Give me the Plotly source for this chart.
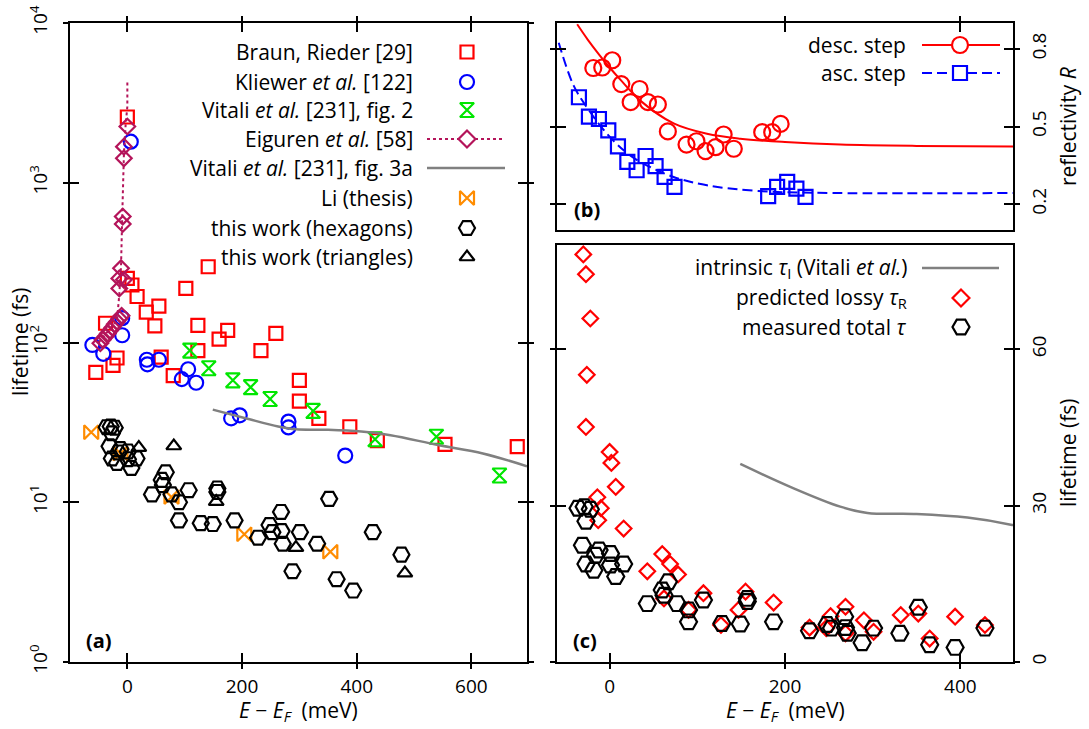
import plotly.graph_objects as go

W, H = 1089, 729
# plot-area edges in pixels (margins)
L, R, T, B = 70, 1013, 23, 662
PW, PH = R - L, B - T

FONT = "Open Sans"
FS = 21      # key and title text
TFS = 19     # tick labels
RED, BLUE, GREEN = "#ff0000", "#0000ff", "#00e600"
ORANGE, CRIMSON, GRAY = "#ff8c00", "#b4145a", "#808080"

# ---------------- panel (a): lifetime vs E - E_F (log) ----------------
braun_x = [-55, -38, -25, -18, 0, 0, 8, 17, 33, 48, 55, 59, 80, 102, 123, 123,
           141, 160, 175, 233, 259, 300, 300, 334, 388, 436, 554, 680]
braun_y = [65, 132, 72, 80, 2580, 252, 229, 194, 155, 127, 169, 81, 62, 218, 128, 89,
           298, 105, 119, 89, 114, 58, 43, 33.5, 29.7, 24.3, 23, 22.3]

kliewer_x = [-61, -42, -9, -9, 6, 34, 35, 55, 95, 106, 120, 181, 196, 281, 281, 380]
kliewer_y = [96.5, 85, 142, 111, 1807, 78, 73, 78, 59, 68, 56, 33.5, 35, 32, 29.4, 19.6]

vitali2_x = [109, 142, 184, 215, 249, 324, 432, 539, 649]
vitali2_y = [89, 69, 58, 52.5, 44.3, 37.3, 24.8, 25.7, 14.7]

eiguren_x = [-47, -43, -38, -34, -30, -26, -22, -18, -14, -10,
             -14, -14, -6, -11, -8, -8, -6, -6, 0]
eiguren_y = [99, 104, 109, 114, 119, 124, 130, 135, 141, 147,
             218, 252, 247, 292, 552, 614, 1423, 1683, 2250]
eiguren_curve_x = [-50, -30, -18, -14, -11, -9, -6, -3, 0, 0]
eiguren_curve_y = [100, 122, 138, 200, 300, 600, 1500, 2300, 3000, 4300]

vitali3a_x = [149, 206, 263, 294, 350, 408, 459, 542, 620, 697]
vitali3a_y = [38, 33.6, 29.8, 28.6, 28.4, 27.7, 26.3, 22.8, 20.2, 16.8]

li_x = [-63, -12, 77, 204, 354]
li_y = [27.4, 20.2, 10.8, 6.3, 4.9]

hex_x = [-36, -29, -22, -27, -31, -12, -16, 1, -27, -18, 1, 16, 7, 43, 67, 60, 62,
         77, 90, 90, 107, 128, 149, 157, 157, 187, 228, 248, 253, 268, 269, 271,
         288, 301, 331, 352, 365, 394, 428, 478]
hex_y = [29.5, 29.8, 29.3, 27.0, 22.4, 21.5, 20.5, 20.8, 18.8, 17.6, 18.6, 18.8, 16.4,
         11.2, 15.4, 13.8, 12.8, 11.2, 10.0, 7.7, 11.9, 7.4, 7.3, 12.2, 11.6, 7.7, 6.0,
         7.2, 6.5, 8.7, 6.6, 5.5, 3.7, 6.5, 5.5, 10.5, 3.3, 2.8, 6.5, 4.7]

tri_x = [20, 81, 155, 294, 484]
tri_y = [22, 22.5, 10.1, 5.2, 3.6]

# ---------------- panel (b): step reflectivity ----------------
desc_x = [-18.6, -8.4, 3, 13.3, 34.2, 24, 43.7, 55, 66.4, 87.7, 99, 109.4, 120.8,
          130, 141.6, 174, 185.4, 195]
desc_y = [0.726, 0.728, 0.756, 0.664, 0.645, 0.594, 0.594, 0.585, 0.481, 0.43, 0.443,
          0.405, 0.42, 0.469, 0.414, 0.478, 0.478, 0.51]
desc_fit_x = [-37, -25, -12, 0, 12.5, 35, 73, 111, 149, 200, 263, 350, 460]
desc_fit_y = [0.895, 0.836, 0.778, 0.728, 0.68, 0.6, 0.512, 0.472, 0.453, 0.44, 0.43,
              0.425, 0.423]

asc_x = [-35, -23.6, -12.2, -1.5, 9.5, 20.2, 30.8, 41, 52.4, 62.7, 74, 180.8, 191,
         202.5, 213, 223.4]
asc_y = [0.613, 0.538, 0.529, 0.485, 0.423, 0.363, 0.331, 0.386, 0.347, 0.305, 0.267,
         0.231, 0.267, 0.286, 0.26, 0.228]
asc_fit_x = [-58, -41, -22, -3, 16, 35, 73, 111, 168, 256, 460]
asc_fit_y = [0.824, 0.658, 0.555, 0.472, 0.408, 0.363, 0.305, 0.273, 0.251, 0.243, 0.243]

# ---------------- panel (c): lossy vs total lifetime ----------------
lossy_x = [-30, -27, -22, -26, -27, 0, 2, 7, -14, -10, -13, 16, 43, 60, 69, 78, 62,
           90, 107, 127, 155, 147, 187, 228, 247, 252, 269, 269, 290, 301, 332, 352,
           365, 394, 428]
lossy_y = [78.2, 74.4, 65.9, 55.1, 45.1, 40.3, 38.2, 33.6, 31.6, 29.5, 27.2, 25.6,
           17.4, 20.7, 18.8, 16.8, 12.2, 10.0, 13.2, 7.1, 13.5, 10.0, 11.4, 6.6, 6.5,
           8.8, 10.6, 5.5, 8.0, 5.8, 9.0, 9.3, 4.5, 8.7, 7.1]

fig = go.Figure()
MLW = 2.2


def pts(x, y, xa, ya, symbol, color, size, name):
    fig.add_trace(go.Scatter(
        x=x, y=y, xaxis=xa, yaxis=ya, mode="markers", name=name, showlegend=False,
        marker=dict(symbol=symbol, size=size, color=color,
                    line=dict(color=color, width=MLW))))


def curve(x, y, xa, ya, color, width, dash, name, shape="linear"):
    fig.add_trace(go.Scatter(
        x=x, y=y, xaxis=xa, yaxis=ya, mode="lines", name=name, showlegend=False,
        line=dict(color=color, width=width, dash=dash, shape=shape)))


# panel (a)
pts(braun_x, braun_y, "x", "y", "square-open", RED, 13, "Braun, Rieder")
pts(kliewer_x, kliewer_y, "x", "y", "circle-open", BLUE, 14, "Kliewer et al.")
pts(vitali2_x, vitali2_y, "x", "y", "hourglass-open", GREEN, 14, "Vitali et al. fig. 2")
curve(eiguren_curve_x, eiguren_curve_y, "x", "y", CRIMSON, 2, "dot", "Eiguren et al.")
pts(eiguren_x, eiguren_y, "x", "y", "diamond-open", CRIMSON, 12, "Eiguren et al.")
curve(vitali3a_x, vitali3a_y, "x", "y", GRAY, 2.5, "solid", "Vitali et al. fig. 3a", "spline")
pts(li_x, li_y, "x", "y", "bowtie-open", ORANGE, 14, "Li (thesis)")
pts(hex_x, hex_y, "x", "y", "hexagon2-open", "black", 16, "this work (hexagons)")
pts(tri_x, tri_y, "x", "y", "triangle-up-open", "black", 13, "this work (triangles)")

# panel (b)
curve(desc_fit_x, desc_fit_y, "x2", "y2", RED, 2, "solid", "desc. step fit", "spline")
pts(desc_x, desc_y, "x2", "y2", "circle-open", RED, 16, "desc. step")
curve(asc_fit_x, asc_fit_y, "x2", "y2", BLUE, 2, "10px,5px", "asc. step fit", "spline")
pts(asc_x, asc_y, "x2", "y2", "square-open", BLUE, 14, "asc. step")

# panel (c)
curve(vitali3a_x, vitali3a_y, "x3", "y3", GRAY, 2.5, "solid", "intrinsic tau_I", "spline")
pts(lossy_x, lossy_y, "x3", "y3", "diamond-open", RED, 12, "predicted lossy tau_R")
pts(hex_x, hex_y, "x3", "y3", "hexagon2-open", "black", 17, "measured total tau")

# invisible traces so the inward-tick overlay axes are drawn
for xa, ya in [("x4", "y"), ("x", "y4"), ("x5", "y2"), ("x2", "y5"), ("x6", "y3"), ("x3", "y6")]:
    fig.add_trace(go.Scatter(x=[None], y=[None], xaxis=xa, yaxis=ya, showlegend=False,
                             hoverinfo="skip"))


# ---------------- axes ----------------
def fx(p):
    return (p - L) / PW


def fy(p):
    return (B - p) / PH


tickfont = dict(family=FONT, size=TFS, color="black")
textfont = dict(family=FONT, size=FS, color="black")
common = dict(showgrid=False, zeroline=False, automargin=False, tickwidth=2,
              tickcolor="black", tickfont=tickfont, fixedrange=True)
dom_a_x = [0, fx(527)]
dom_bc_x = [fx(557), 1]
dom_a_y = [0, 1]
dom_b_y = [fy(230), 1]
dom_c_y = [0, fy(245)]

xa_range = [-100, 697]
xbc_range = [-60, 460]
xtitle = "<i>E</i> − <i>E</i><sub><i>F</i></sub>  (meV)"

logvals = [1, 10, 100, 1000, 10000]
logtext = ["10<sup>%d</sup>" % k for k in range(5)]

fig.update_layout(
    xaxis=dict(domain=dom_a_x, anchor="y", range=xa_range, tickvals=[0, 200, 400, 600],
               ticks="outside", ticklen=5, showline=True, linewidth=2, linecolor="black",
               mirror="ticks", ticklabelstandoff=1, **common),
    xaxis4=dict(overlaying="x", anchor="y", range=xa_range, tickvals=[0, 200, 400, 600],
                ticks="inside", ticklen=9, mirror="ticks", showticklabels=False,
                showline=False, **common),
    yaxis=dict(domain=dom_a_y, anchor="x", type="log", range=[0, 4], tickvals=logvals,
               ticktext=logtext, tickangle=-90, ticks="outside", ticklen=5,
               showline=True, linewidth=2, linecolor="black", mirror="ticks",
               ticklabelstandoff=8, **common),
    yaxis4=dict(overlaying="y", anchor="x", type="log", range=[0, 4], tickvals=logvals,
                ticks="inside", ticklen=9, mirror="ticks", showticklabels=False,
                showline=False, **common),

    xaxis2=dict(domain=dom_bc_x, anchor="y2", range=xbc_range, tickvals=[0, 200, 400],
                side="top", ticks="outside", ticklen=5, showticklabels=False,
                showline=True, linewidth=2, linecolor="black", mirror=True, **common),
    xaxis5=dict(overlaying="x2", anchor="y2", range=xbc_range, tickvals=[0, 200, 400],
                side="top", ticks="inside", ticklen=9, showticklabels=False,
                showline=False, **common),
    yaxis2=dict(domain=dom_b_y, anchor="x2", side="right", range=[0.1, 0.9],
                tickvals=[0.2, 0.5, 0.8], ticktext=["0.2", "0.5", "0.8"], tickangle=-90,
                ticks="outside", ticklen=5, showline=True, linewidth=2, linecolor="black",
                mirror="ticks", ticklabelstandoff=3, **common),
    yaxis5=dict(overlaying="y2", anchor="x2", side="right", range=[0.1, 0.9],
                tickvals=[0.2, 0.5, 0.8], ticks="inside", ticklen=9, mirror="ticks",
                showticklabels=False, showline=False, **common),

    xaxis3=dict(domain=dom_bc_x, anchor="y3", range=xbc_range, tickvals=[0, 200, 400],
                ticks="outside", ticklen=5, showline=True, linewidth=2, linecolor="black",
                mirror=True, ticklabelstandoff=1, **common),
    xaxis6=dict(overlaying="x3", anchor="y3", range=xbc_range, tickvals=[0, 200, 400],
                ticks="inside", ticklen=9, showticklabels=False, showline=False, **common),
    yaxis3=dict(domain=dom_c_y, anchor="x3", side="right", range=[0, 80],
                tickvals=[0, 30, 60], tickangle=-90, ticks="outside", ticklen=5,
                showline=True, linewidth=2, linecolor="black", mirror="ticks",
                ticklabelstandoff=3, **common),
    yaxis6=dict(overlaying="y3", anchor="x3", side="right", range=[0, 80],
                tickvals=[0, 30, 60], ticks="inside", ticklen=9, mirror="ticks",
                showticklabels=False, showline=False, **common),

    # full-area pixel frame used for the key samples
    xaxis7=dict(domain=[0, 1], anchor="y7", range=[L, R], visible=False, fixedrange=True),
    yaxis7=dict(domain=[0, 1], anchor="x7", range=[B, T], visible=False, fixedrange=True),
)

# ---------------- keys ----------------
keys_a = [
    ("Braun, Rieder [29]", dict(symbol="square-open", color=RED, size=13), None),
    ("Kliewer <i>et al.</i> [122]", dict(symbol="circle-open", color=BLUE, size=14), None),
    ("Vitali <i>et al.</i> [231], fig. 2", dict(symbol="hourglass-open", color=GREEN, size=14), None),
    ("Eiguren <i>et al.</i> [58]", dict(symbol="diamond-open", color=CRIMSON, size=13), (CRIMSON, "dot", 2)),
    ("Vitali <i>et al.</i> [231], fig. 3a", None, (GRAY, "solid", 2.5)),
    ("Li (thesis)", dict(symbol="bowtie-open", color=ORANGE, size=14), None),
    ("this work (hexagons)", dict(symbol="hexagon2-open", color="black", size=16), None),
    ("this work (triangles)", dict(symbol="triangle-up-open", color="black", size=13), None),
]
rows_a = [52, 82, 110, 139, 168, 198, 228, 257]

keys_b = [
    ("desc. step", dict(symbol="circle-open", color=RED, size=16), (RED, "solid", 2)),
    ("asc. step", dict(symbol="square-open", color=BLUE, size=14), (BLUE, "10px,5px", 2)),
]
rows_b = [45, 73]

keys_c = [
    ("intrinsic <i>τ</i><sub>I</sub> (Vitali <i>et al.</i>)", None, (GRAY, "solid", 2.5)),
    ("predicted lossy <i>τ</i><sub>R</sub>", dict(symbol="diamond-open", color=RED, size=13), None),
    ("measured total <i>τ</i>", dict(symbol="hexagon2-open", color="black", size=17), None),
]
rows_c = [268, 298, 327]

annotations = []


def add_keys(keys, rows, text_right, line_x0, line_x1, mark_x):
    for (label, mk, ln), yy in zip(keys, rows):
        annotations.append(dict(text=label, x=fx(text_right), y=fy(yy), xref="paper",
                                yref="paper", xanchor="right", yanchor="middle",
                                showarrow=False, font=textfont))
        if ln is not None:
            fig.add_trace(go.Scatter(x=[line_x0, line_x1], y=[yy, yy], xaxis="x7",
                                     yaxis="y7", mode="lines", showlegend=False,
                                     hoverinfo="skip",
                                     line=dict(color=ln[0], dash=ln[1], width=ln[2])))
        if mk is not None:
            # white fill behind the outlined symbol hides the key line
            fig.add_trace(go.Scatter(x=[mark_x], y=[yy], xaxis="x7", yaxis="y7",
                                     mode="markers", showlegend=False, hoverinfo="skip",
                                     marker=dict(symbol=mk["symbol"].replace("-open", ""),
                                                 size=mk["size"], color="white",
                                                 line=dict(color=mk["color"], width=MLW))))


add_keys(keys_a, rows_a, 415, 427, 505, 467)
add_keys(keys_b, rows_b, 908, 922, 1000, 960)
add_keys(keys_c, rows_c, 909, 922, 999, 961)

# panel tags
for lab, xx, yy in [("(a)", 99, 640), ("(b)", 587, 209), ("(c)", 585, 640)]:
    annotations.append(dict(text="<b>%s</b>" % lab, x=fx(xx), y=fy(yy), xref="paper",
                            yref="paper", xanchor="center", yanchor="middle",
                            showarrow=False, font=dict(family=FONT, size=20, color="black")))

# axis titles
for lab, xx, yy, ang in [("lifetime (fs)", 20, 342, -90),
                         ("reflectivity <i>R</i>", 1068, 127, -90),
                         ("lifetime (fs)", 1068, 453, -90),
                         (xtitle, 298, 711, 0), (xtitle, 785, 711, 0)]:
    annotations.append(dict(text=lab, x=fx(xx), y=fy(yy), xref="paper", yref="paper",
                            xanchor="center", yanchor="middle", textangle=ang,
                            showarrow=False, font=textfont))

fig.update_layout(
    width=W, height=H, annotations=annotations,
    margin=dict(l=L, r=W - R, t=T, b=H - B, autoexpand=False),
    paper_bgcolor="white", plot_bgcolor="rgba(0,0,0,0)",
    font=dict(family=FONT, size=FS, color="black"),
    showlegend=False,
)

fig.write_html("out.html")
